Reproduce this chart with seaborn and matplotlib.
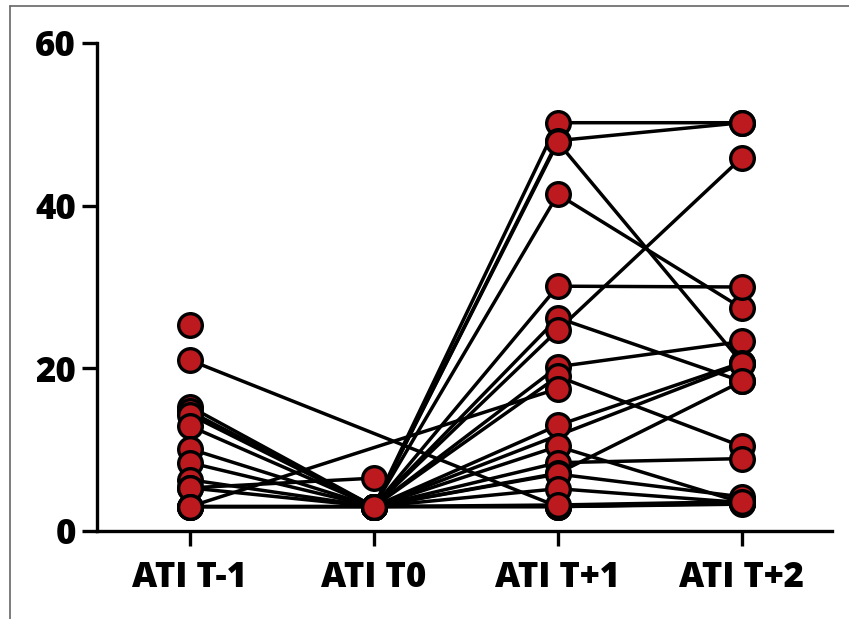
import numpy as np
import pandas as pd
import matplotlib
matplotlib.use('Agg')
import matplotlib.pyplot as plt
from matplotlib.lines import Line2D
import seaborn as sns

TIMEPOINTS = ['ATI T-1', 'ATI T0', 'ATI T+1', 'ATI T+2']
nan = np.nan

# one entry per subject, missing visits as nan
ati_tm1 = [25.3, 15.3, 14.7, nan, 14.3, nan, 12.9, nan, 10.1, nan, 3.0, 8.4,
           nan, 6.3, nan, 3.0, nan, 5.3, nan, 21.0, 5.3, 3.0, 3.0]
ati_t0 = [nan, 3.0, 3.0, 3.0, 3.0, 3.0, 3.0, 3.0, 3.0, 3.0, nan, 3.0,
          3.0, 3.0, 3.0, 3.0, 3.0, 3.0, 3.0, nan, 6.5, 3.0, 3.0]
ati_tp1 = [nan, 50.2, 48.0, 47.8, 41.4, 30.1, 26.2, 24.7, 20.2, 19.0, 17.5, 13.0,
           nan, 10.4, 8.4, 7.1, 7.0, 5.2, 3.0, 3.0, nan, 3.0, 3.2]
ati_tp2 = [nan, 50.2, 50.2, 20.7, 27.4, 30.0, 18.4, 45.9, 23.3, 10.4, nan, 20.7,
           20.5, 3.5, 8.9, 18.4, 4.2, 3.5, 3.3, 3.5, nan, 3.4, 3.6]

wide = pd.DataFrame({
    'subject': range(len(ati_tm1)),
    TIMEPOINTS[0]: ati_tm1,
    TIMEPOINTS[1]: ati_t0,
    TIMEPOINTS[2]: ati_tp1,
    TIMEPOINTS[3]: ati_tp2,
})
long = wide.melt(id_vars='subject', var_name='visit', value_name='ati').dropna()
long['pos'] = long['visit'].map({v: i for i, v in enumerate(TIMEPOINTS)})
long = long.sort_values(['subject', 'pos'])

sns.set_style('white')
plt.rcParams['font.family'] = ['Open Sans', 'DejaVu Sans']
plt.rcParams['font.weight'] = 'bold'

fig = plt.figure(figsize=(8.49, 6.19), dpi=100)
ax = fig.add_axes([97 / 849, 1 - 531 / 619, (832 - 97) / 849, (531 - 43) / 619])

sns.lineplot(data=long, x='pos', y='ati', units='subject', estimator=None,
             color='black', linewidth=2.5, sort=False, ax=ax, zorder=2)
sns.scatterplot(data=long, x='pos', y='ati', s=290, color='#bd1a20',
                edgecolor='black', linewidth=2.4, ax=ax, zorder=3,
                clip_on=False, legend=False)

ax.set_xlim(-0.505, 3.49)
ax.set_ylim(0, 60)
ax.set_xticks(range(len(TIMEPOINTS)))
ax.set_xticklabels(TIMEPOINTS)
ax.set_yticks([0, 20, 40, 60])
ax.set_xlabel('')
ax.set_ylabel('')

for side in ['top', 'right']:
    ax.spines[side].set_visible(False)
for side in ['left', 'bottom']:
    ax.spines[side].set_linewidth(2.4)
    ax.spines[side].set_color('black')

ax.tick_params(axis='both', which='major', length=11, width=2.4,
               color='black', labelsize=25, labelcolor='black')
ax.tick_params(axis='x', pad=10, bottom=True)
ax.tick_params(axis='y', pad=4, left=True)
for lab in ax.get_xticklabels() + ax.get_yticklabels():
    lab.set_fontweight('heavy')

# thin frame at top and left of the picture
fig.add_artist(Line2D([10 / 849, 1], [1 - 6 / 619, 1 - 6 / 619],
                      transform=fig.transFigure, color='#666666', linewidth=1.2))
fig.add_artist(Line2D([10 / 849, 10 / 849], [0, 1 - 6 / 619],
                      transform=fig.transFigure, color='#666666', linewidth=1.2))

fig.savefig('out.png', dpi=100)
